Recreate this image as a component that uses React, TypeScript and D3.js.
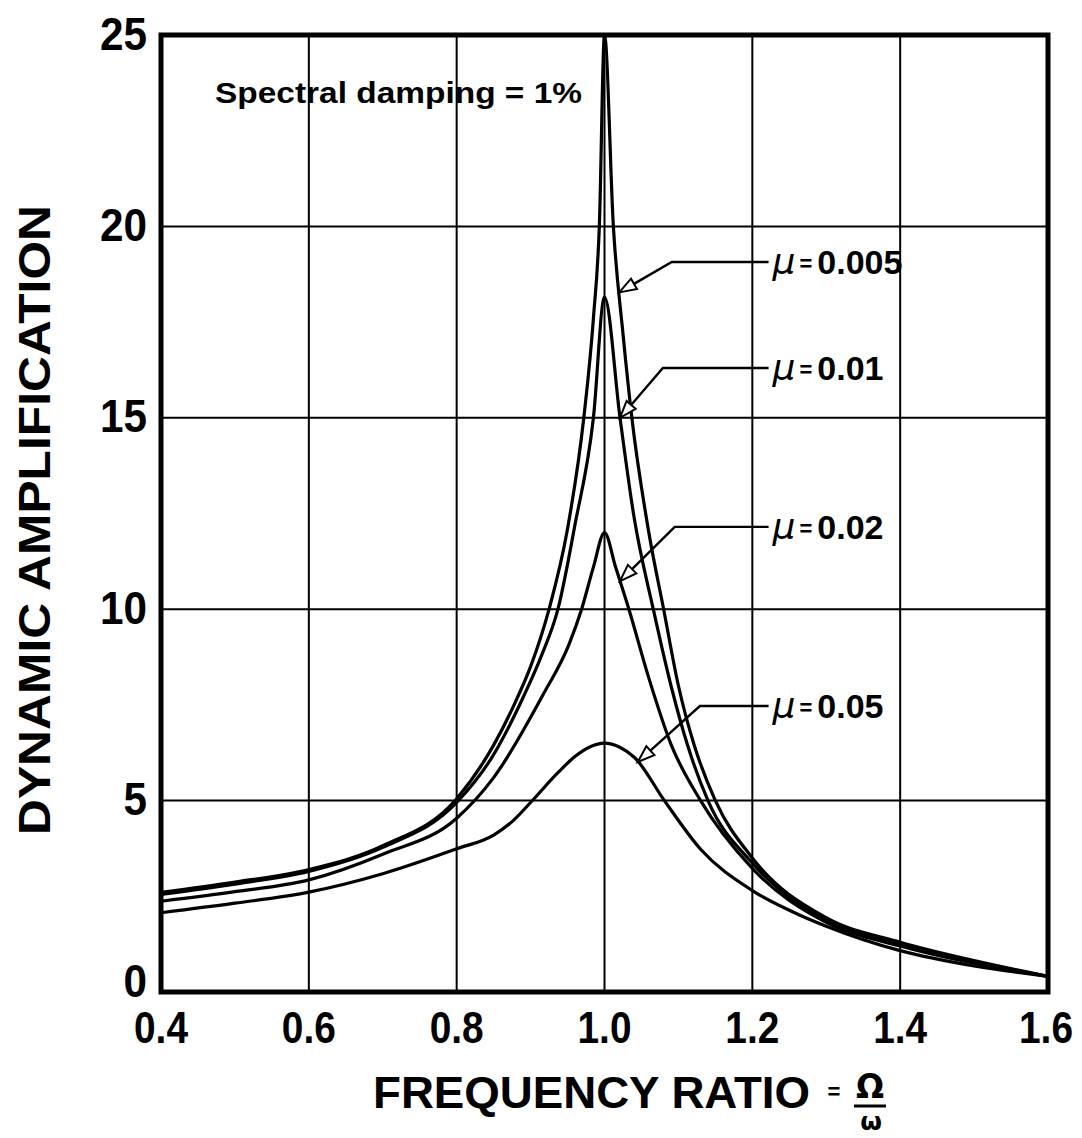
import React from "react";
import * as d3 from "d3";

// ---- data ----
const xTicks = [0.4, 0.6, 0.8, 1.0, 1.2, 1.4, 1.6];
const xTickLabels = ["0.4", "0.6", "0.8", "1.0", "1.2", "1.4", "1.6"];
const yTicks = [0, 5, 10, 15, 20, 25];
const yTickLabels = ["0", "5", "10", "15", "20", "25"];

const mu005X = [0.4, 0.5, 0.6, 0.7, 0.8, 0.85, 0.88, 0.9, 0.925, 0.95, 0.972, 0.985, 0.993, 1.0, 1.012, 1.025, 1.037, 1.06, 1.08, 1.1, 1.121, 1.15, 1.2, 1.3, 1.4, 1.5, 1.6];
const mu005Y = [2.6, 2.87, 3.2, 3.82, 5.05, 6.45, 7.6, 8.5, 10, 12.1, 15, 17.6, 20, 25, 20, 17.2, 15, 12.0, 10, 8.0, 6.47, 5, 3.5, 1.94, 1.3, 0.82, 0.41];

const mu01X = [0.4, 0.5, 0.6, 0.7, 0.8, 0.85, 0.89, 0.915, 0.937, 0.96, 0.985, 1.0, 1.021, 1.04, 1.066, 1.09, 1.112, 1.14, 1.2, 1.3, 1.4, 1.5, 1.6];
const mu01Y = [2.55, 2.82, 3.15, 3.78, 4.95, 6.2, 7.7, 8.8, 10, 12.2, 15, 18.15, 15, 12.4, 10, 8.0, 6.47, 5, 3.37, 1.88, 1.25, 0.78, 0.41];

const mu02X = [0.4, 0.5, 0.6, 0.7, 0.8, 0.85, 0.917, 0.952, 0.969, 0.985, 1.0, 1.015, 1.033, 1.06, 1.09, 1.13, 1.2, 1.3, 1.4, 1.5, 1.6];
const mu02Y = [2.37, 2.62, 2.93, 3.6, 4.54, 5.6, 7.77, 9.08, 10, 11.1, 12.0, 11.1, 10, 8.2, 6.47, 5, 3.23, 1.82, 1.2, 0.75, 0.41];

const mu05X = [0.4, 0.5, 0.6, 0.7, 0.8, 0.85, 0.875, 0.9, 0.937, 0.96, 0.98, 1.0, 1.02, 1.041, 1.081, 1.13, 1.2, 1.263, 1.3, 1.4, 1.5, 1.6];
const mu05Y = [2.07, 2.32, 2.61, 3.09, 3.74, 4.1, 4.45, 4.95, 5.73, 6.15, 6.4, 6.5, 6.4, 6.12, 5.0, 3.73, 2.65, 2.02, 1.72, 1.08, 0.68, 0.41];

const seriesNames = ["0.005", "0.01", "0.02", "0.05"];
const seriesX = [mu005X, mu01X, mu02X, mu05X];
const seriesY = [mu005Y, mu01Y, mu02Y, mu05Y];

// annotation anchors (data units): label level, elbow x, arrow-tip x
const labelLevels = [19.07, 16.3, 12.15, 7.47];
const elbowXs = [1.091, 1.079, 1.095, 1.129];
const tipXs = [1.02, 1.021, 1.021, 1.045];
const labelX = 1.222;

const titleY = "DYNAMIC AMPLIFICATION";
const titleX = "FREQUENCY RATIO";
const noteText = "Spectral damping = 1%";

const W = 1082;
const H = 1138;
const FONT = "'Liberation Sans', Arial, Helvetica, sans-serif";

function interp(xs: number[], ys: number[], x: number) {
  for (let i = 0; i < xs.length - 1; i++) {
    if (x >= xs[i] && x <= xs[i + 1]) {
      const t = (x - xs[i]) / (xs[i + 1] - xs[i]);
      return ys[i] + t * (ys[i + 1] - ys[i]);
    }
  }
  return ys[ys.length - 1];
}

export default function App() {
  const x = d3.scaleLinear().domain([0.4, 1.6]).range([161, 1048]);
  const y = d3.scaleLinear().domain([0, 25]).range([992, 35]);

  const line = d3
    .line<[number, number]>()
    .x((d) => x(d[0]))
    .y((d) => y(d[1]))
    .curve(d3.curveMonotoneX);

  return (
    <svg
      width={W}
      height={H}
      style={{ position: "absolute", left: 0, top: 0, display: "block", background: "#fff" }}
      fontFamily={FONT}
    >
      <defs>
        <clipPath id="plot">
          <rect x={x(0.4)} y={y(25)} width={x(1.6) - x(0.4)} height={y(0) - y(25)} />
        </clipPath>
      </defs>
      <rect x={0} y={0} width={W} height={H} fill="#fff" />

      {/* grid */}
      {xTicks.map((t) => (
        <line key={"gx" + t} x1={x(t)} x2={x(t)} y1={y(0)} y2={y(25)} stroke="#000" strokeWidth={2} />
      ))}
      {yTicks.map((t) => (
        <line key={"gy" + t} x1={x(0.4)} x2={x(1.6)} y1={y(t)} y2={y(t)} stroke="#000" strokeWidth={2} />
      ))}

      {/* curves */}
      <g clipPath="url(#plot)">
        {seriesX.map((xs, i) => (
          <path
            key={"s" + i}
            d={line(xs.map((v, j) => [v, seriesY[i][j]] as [number, number])) || ""}
            fill="none"
            stroke="#000"
            strokeWidth={3.2}
            strokeLinejoin="round"
          />
        ))}
      </g>

      {/* frame */}
      <rect
        x={x(0.4)}
        y={y(25)}
        width={x(1.6) - x(0.4)}
        height={y(0) - y(25)}
        fill="none"
        stroke="#000"
        strokeWidth={5}
      />

      {/* annotations */}
      {seriesNames.map((name, i) => {
        const tx = x(tipXs[i]);
        const ty = y(interp(seriesX[i], seriesY[i], tipXs[i]));
        const ex = x(elbowXs[i]);
        const ey = y(labelLevels[i]);
        const lx = x(labelX);
        const ang = Math.atan2(ty - ey, tx - ex);
        const len = 17;
        const hw = 6;
        const bx = tx - len * Math.cos(ang);
        const by = ty - len * Math.sin(ang);
        const px = -Math.sin(ang);
        const py = Math.cos(ang);
        const tri = `M${tx},${ty} L${bx + px * hw},${by + py * hw} L${bx - px * hw},${by - py * hw} Z`;
        return (
          <g key={"a" + i}>
            <polyline points={`${lx},${ey} ${ex},${ey} ${bx},${by}`} fill="none" stroke="#000" strokeWidth={2.4} />
            <path d={tri} fill="#fff" stroke="#000" strokeWidth={2} strokeLinejoin="miter" />
            <text x={lx + 4} y={ey} dy="0.36em" fontSize={34}>
              <tspan fontStyle="italic" fontFamily="'DejaVu Sans', sans-serif" fontSize={36}>μ</tspan>
              <tspan fontWeight="bold" fontSize={22} dx={4} dy={-3}>=</tspan>
              <tspan fontWeight="bold" dx={5} dy={3}>{name}</tspan>
            </text>
          </g>
        );
      })}

      <text x={215} y={103} fontSize={30} fontWeight="bold" textLength={367} lengthAdjust="spacingAndGlyphs">
        {noteText}
      </text>

      {/* y tick labels */}
      {yTicks.map((t, i) => (
        <text
          key={"yl" + t}
          x={147}
          y={t === 0 ? y(t) - 12 : y(t) - 2}
          dy="0.36em"
          textAnchor="end"
          fontSize={46}
          fontWeight="bold"
          textLength={yTickLabels[i].length * 23.5}
          lengthAdjust="spacingAndGlyphs"
        >
          {yTickLabels[i]}
        </text>
      ))}
      {/* x tick labels */}
      {xTicks.map((t, i) => (
        <text
          key={"xl" + t}
          x={i === xTicks.length - 1 ? x(t) - 2 : x(t)}
          y={1043}
          textAnchor="middle"
          fontSize={44}
          fontWeight="bold"
          textLength={54}
          lengthAdjust="spacingAndGlyphs"
        >
          {xTickLabels[i]}
        </text>
      ))}

      {/* axis titles */}
      <text
        transform={`translate(50, 520) rotate(-90)`}
        textAnchor="middle"
        fontSize={45}
        fontWeight="bold"
        textLength={630}
        lengthAdjust="spacingAndGlyphs"
      >
        {titleY}
      </text>
      <text x={373} y={1108} fontSize={45} fontWeight="bold" textLength={437} lengthAdjust="spacingAndGlyphs">
        {titleX}
      </text>
      <text x={834} y={1099} fontSize={22} fontWeight="bold" textAnchor="middle">=</text>
      <text x={870} y={1098} fontSize={33} fontWeight="bold" textAnchor="middle" fontFamily="'DejaVu Sans', sans-serif">Ω</text>
      <line x1={854} x2={886} y1={1106} y2={1106} stroke="#000" strokeWidth={3} />
      <text x={871} y={1130} fontSize={25} fontWeight="bold" textAnchor="middle" fontFamily="'DejaVu Sans', sans-serif">ω</text>
    </svg>
  );
}
